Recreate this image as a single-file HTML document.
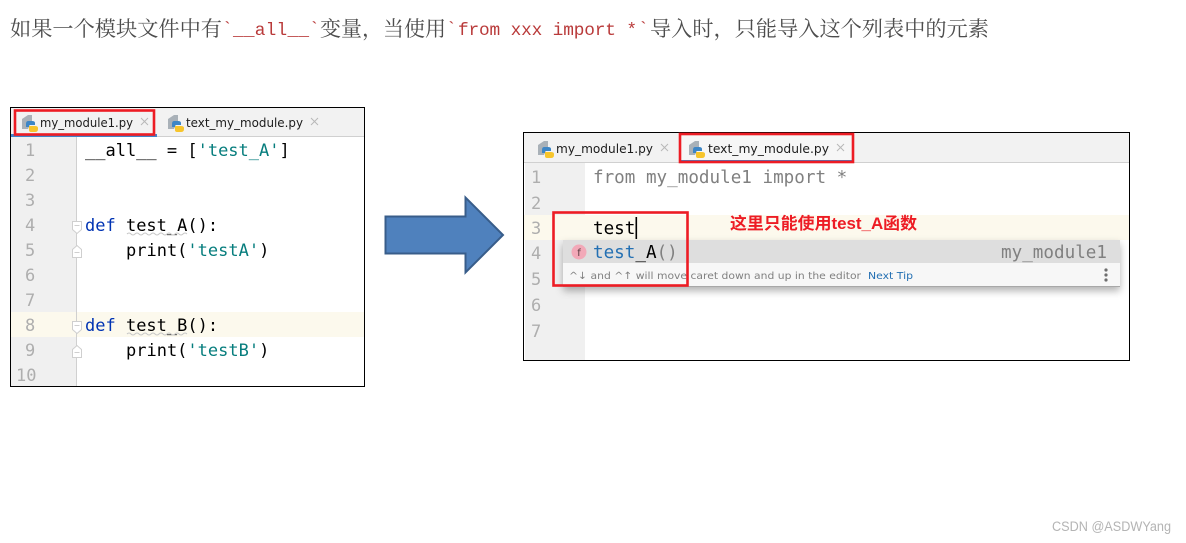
<!DOCTYPE html>
<html lang="zh">
<head>
<meta charset="utf-8">
<title>__all__</title>
<style>
html,body{margin:0;padding:0;background:#fff;width:1186px;height:543px;overflow:hidden}
svg{display:block}
.t{font-family:"Noto Serif CJK SC","Liberation Serif",serif;font-size:21px;fill:#4d4d4d}
.r{font-family:"Liberation Mono",monospace;font-size:17.8px;fill:#b93a3a}
.c1{font-family:"DejaVu Sans Mono",monospace;font-size:17px;fill:#000}
.c2{font-family:"DejaVu Sans Mono",monospace;font-size:17.6px;fill:#000}
.n{font-family:"DejaVu Sans Mono",monospace;font-size:17px;fill:#aeaeae}
.tab{font-family:"DejaVu Sans",sans-serif;font-size:12px;fill:#1c1c1c}
.kw{fill:#0033b3}.str{fill:#067d7d}
.tip{font-family:"DejaVu Sans",sans-serif;font-size:10px;fill:#808080}
</style>
</head>
<body>
<svg width="1186" height="543" viewBox="0 0 1186 543" xmlns="http://www.w3.org/2000/svg">
<defs>
<g id="py">
  <path d="M0 4 L6 0 L10 0 L10 6 L6 14 L0 14Z" fill="#a9b1b8"/>
  <path d="M6 6 h4 q3 0 3 2 v2 h-6 v2 h-3 v-3 q0-3 2-3z" fill="#3d86c6"/>
  <path d="M7 11 h6 q3 0 3 2 v1 q0 3-3 3 h-4 q-2 0-2-2z" fill="#f7c52c"/>
</g>
<filter id="sh" x="-5%" y="-20%" width="110%" height="150%">
  <feDropShadow dx="0" dy="4" stdDeviation="4" flood-color="#000" flood-opacity=".3"/>
</filter>
</defs>

<!-- heading -->
<text class="t" x="10" y="36" textLength="212" lengthAdjust="spacingAndGlyphs">如果一个模块文件中有</text>
<text class="r" x="222" y="34">`</text>
<text class="r" x="233" y="35" textLength="76">__all__</text>
<text class="r" x="309" y="34">`</text>
<text class="t" x="320" y="36" textLength="126" lengthAdjust="spacingAndGlyphs">变量，当使用</text>
<text class="r" x="446" y="34">`</text>
<text class="r" x="458" y="35" textLength="179">from xxx import *</text>
<text class="r" x="638" y="34">`</text>
<text class="t" x="650" y="36" textLength="339" lengthAdjust="spacingAndGlyphs">导入时，只能导入这个列表中的元素</text>

<!-- left panel -->
<rect x="10.5" y="107.5" width="354" height="279" fill="#fff" stroke="#000"/>
<rect x="11" y="108" width="353" height="28" fill="#f2f2f2"/>
<rect x="11" y="136" width="353" height="1" fill="#d0d0d0"/>
<rect x="11" y="134" width="146" height="3" fill="#4083c9"/>
<rect x="11" y="137" width="65" height="249" fill="#f0f0f0"/>
<rect x="11" y="312" width="353" height="25" fill="#fcf9ed"/>
<rect x="76" y="137" width="1" height="249" fill="#d0d0d0"/>

<use href="#py" x="22" y="115"/>
<text class="tab" x="40" y="127" textLength="93" lengthAdjust="spacingAndGlyphs">my_module1.py</text>
<path d="M141 118 l7 7 M148 118 l-7 7" stroke="#b8b8b8" fill="none"/>
<use href="#py" x="168" y="115"/>
<text class="tab" x="186" y="127" textLength="117" lengthAdjust="spacingAndGlyphs">text_my_module.py</text>
<path d="M311 118 l7 7 M318 118 l-7 7" stroke="#b8b8b8" fill="none"/>
<rect x="15" y="110.5" width="139" height="24" fill="none" stroke="#ed1c24" stroke-width="2.6"/>

<text class="n" x="25" y="156">1</text>
<text class="n" x="25" y="181">2</text>
<text class="n" x="25" y="206">3</text>
<text class="n" x="25" y="231">4</text>
<text class="n" x="25" y="256">5</text>
<text class="n" x="25" y="281">6</text>
<text class="n" x="25" y="306">7</text>
<text class="n" x="25" y="331">8</text>
<text class="n" x="25" y="356">9</text>
<text class="n" x="16" y="381">10</text>

<text class="c1" x="85" y="156">__all__ = [<tspan class="str">'test_A'</tspan>]</text>
<text class="c1" x="85" y="231"><tspan class="kw">def</tspan> test_A():</text>
<text class="c1" x="126" y="256">print(<tspan class="str">'testA'</tspan>)</text>
<text class="c1" x="85" y="331"><tspan class="kw">def</tspan> test_B():</text>
<text class="c1" x="126" y="356">print(<tspan class="str">'testB'</tspan>)</text>
<path d="M127 234 q2-2 4 0 t4 0 t4 0 t4 0 t4 0 t4 0 t4 0 t4 0 t4 0 t4 0 t4 0 t4 0 t4 0 t4 0 t4 0" fill="none" stroke="#c8c8c8" stroke-width="1"/>
<path d="M127 334 q2-2 4 0 t4 0 t4 0 t4 0 t4 0 t4 0 t4 0 t4 0 t4 0 t4 0 t4 0 t4 0 t4 0 t4 0 t4 0" fill="none" stroke="#c8c8c8" stroke-width="1"/>

<g fill="#fff" stroke="#cfcfcf">
  <path d="M72.5 221.5 h9 v8 l-4.5 4 l-4.5-4z"/>
  <path d="M72.5 257.5 h9 v-8 l-4.5-4 l-4.5 4z"/>
  <path d="M72.5 321.5 h9 v8 l-4.5 4 l-4.5-4z"/>
  <path d="M72.5 357.5 h9 v-8 l-4.5-4 l-4.5 4z"/>
  <path d="M74.5 225.5 h5 M74.5 252.5 h5 M74.5 325.5 h5 M74.5 352.5 h5"/>
</g>

<!-- arrow -->
<path d="M385.5 216.5 H465.5 V197.5 L503 235 L465.5 272.5 V253.5 H385.5Z" fill="#4f81bd" stroke="#385d8a" stroke-width="2"/>

<!-- right panel -->
<rect x="523.5" y="132.5" width="606" height="228" fill="#fff" stroke="#000"/>
<rect x="524" y="133" width="605" height="29" fill="#f2f2f2"/>
<rect x="524" y="162" width="605" height="1" fill="#d0d0d0"/>
<rect x="680" y="160" width="173" height="3" fill="#4083c9"/>
<rect x="680" y="134" width="173" height="26" fill="#fff" opacity=".35"/>
<rect x="525" y="163" width="60" height="197" fill="#f0f0f0"/>
<rect x="524" y="215" width="605" height="25" fill="#fcf9ed"/>

<use href="#py" x="538" y="141"/>
<text class="tab" x="556" y="153" textLength="97" lengthAdjust="spacingAndGlyphs">my_module1.py</text>
<path d="M661 144 l7 7 M668 144 l-7 7" stroke="#b8b8b8" fill="none"/>
<use href="#py" x="689" y="141"/>
<text class="tab" x="708" y="153" textLength="121" lengthAdjust="spacingAndGlyphs">text_my_module.py</text>
<path d="M837 144 l7 7 M844 144 l-7 7" stroke="#b8b8b8" fill="none"/>
<rect x="680" y="134" width="173" height="28" fill="none" stroke="#ed1c24" stroke-width="2.6"/>

<text class="n" x="531" y="183">1</text>
<text class="n" x="531" y="209">2</text>
<text class="n" x="531" y="234">3</text>
<text class="n" x="531" y="259">4</text>
<text class="n" x="531" y="285">5</text>
<text class="n" x="531" y="311">6</text>
<text class="n" x="531" y="337">7</text>

<text class="c2" x="593" y="183" style="fill:#808080">from my_module1 import *</text>
<text class="c2" x="593" y="234">test</text>
<rect x="635.5" y="217" width="1.6" height="22" fill="#000"/>

<!-- completion popup -->
<rect x="563" y="240" width="557" height="47" fill="#f7f7f7" filter="url(#sh)"/>
<rect x="563" y="240" width="557" height="23" fill="#dedede"/>
<rect x="563" y="286" width="557" height="1" fill="#a8a8a8"/>
<circle cx="579" cy="252" r="7.5" fill="#f2a9b8"/>
<text x="579" y="256" text-anchor="middle" style="font-family:'DejaVu Sans',sans-serif;font-size:10px;fill:#5a3a3f">f</text>
<text class="c2" x="593" y="258"><tspan style="fill:#2470b3">test</tspan><tspan>_A</tspan><tspan style="fill:#808080">()</tspan></text>
<text class="c2" x="1001" y="258" style="fill:#808080" textLength="106">my_module1</text>
<text class="tip" x="569" y="279" textLength="292" lengthAdjust="spacingAndGlyphs">^↓ and ^↑ will move caret down and up in the editor</text>
<text class="tip" x="868" y="279" textLength="45" lengthAdjust="spacingAndGlyphs" style="fill:#2470b3">Next Tip</text>
<circle cx="1106" cy="270" r="1.6" fill="#6e6e6e"/>
<circle cx="1106" cy="275" r="1.6" fill="#6e6e6e"/>
<circle cx="1106" cy="280" r="1.6" fill="#6e6e6e"/>

<rect x="553.5" y="212.5" width="134" height="73" fill="none" stroke="#ed1c24" stroke-width="2.6"/>

<text x="730" y="229" textLength="187" lengthAdjust="spacingAndGlyphs" style="font-family:'Liberation Sans','Noto Sans CJK SC',sans-serif;font-size:16.5px;font-weight:bold;fill:#ed1c24">这里只能使用test_A函数</text>

<!-- watermark -->
<text x="1052" y="531" textLength="119" lengthAdjust="spacingAndGlyphs" style="font-family:'Liberation Sans',sans-serif;font-size:13.5px;fill:#b4b4b4">CSDN @ASDWYang</text>
</svg>
</body>
</html>
